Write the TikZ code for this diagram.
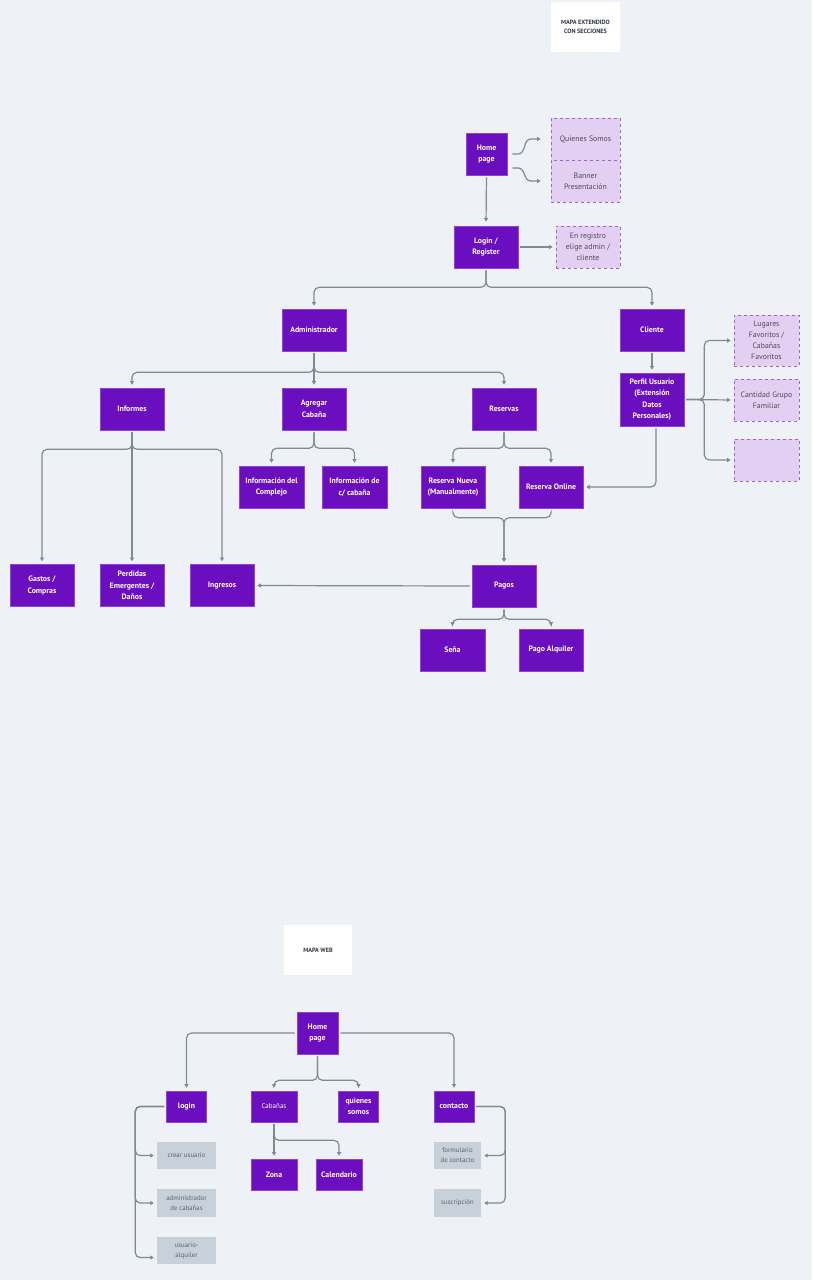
\documentclass[tikz,border=0pt]{standalone}
\usepackage{fontspec}
\setmainfont{PT Sans}
\usetikzlibrary{arrows.meta,calc}

\definecolor{bg}{HTML}{EEF2F6}
\definecolor{purp}{HTML}{6B0EC0}
\definecolor{purpedge}{HTML}{8E45D6}
\definecolor{lilac}{HTML}{E2CFF2}
\definecolor{lilacedge}{HTML}{9A66CC}
\definecolor{lilactext}{HTML}{4F4A5E}
\definecolor{greybox}{HTML}{C8D1D9}
\definecolor{greytext}{HTML}{59636E}
\definecolor{wire}{HTML}{7E8A96}
\definecolor{titletext}{HTML}{2E3440}

\begin{document}
\begin{tikzpicture}[x=1pt,y=-1pt,
  box/.style={fill=purp,draw=purpedge,line width=0.6pt,text=white,
    font=\bfseries\fontsize{7.8}{11.5}\selectfont,align=center,
    minimum width=64pt,minimum height=42pt,inner sep=1pt},
  small/.style={box,minimum width=40pt,minimum height=31pt},
  dashbox/.style={fill=lilac,draw=lilacedge,dashed,line width=0.7pt,
    text=lilactext,font=\fontsize{7.8}{11}\selectfont,align=center,
    minimum width=65pt,minimum height=42pt,inner sep=1pt},
  greyb/.style={fill=greybox,text=greytext,font=\fontsize{6.8}{10}\selectfont,
    align=center,minimum width=59pt,minimum height=27pt,inner sep=1pt},
  titlebox/.style={fill=white,text=titletext,font=\bfseries\fontsize{6.2}{9}\selectfont,
    align=center,minimum width=69pt,minimum height=50pt,inner sep=1pt},
  conn/.style={draw=wire,line width=1.2pt,rounded corners=5pt},
  arr/.style={conn,-{Triangle[length=3.5pt,width=4pt]},shorten >=3pt,shorten <=2pt},
]
% background and picture size
\path[fill=bg] (0,0) rectangle (812,1280);

% ---------- extended map ----------
\node[titlebox] (title) at (585.5,27) {MAPA EXTENDIDO\\CON SECCIONES};

\node[box,minimum width=41pt] (home) at (486.5,154) {Home\\page};
\node[dashbox,minimum width=69pt] (quien) at (585.5,139) {Quienes Somos};
\node[dashbox,minimum width=69pt] (banner) at (585.5,181) {Banner\\Presentación};
\node[box] (login) at (486,247) {Login /\\Register};
\node[dashbox,minimum width=64pt] (enreg) at (588,247) {En registro\\elige admin /\\cliente};

\node[box] (adm) at (314,330) {Administrador};
\node[box] (cli) at (652,330) {Cliente};
\node[box,minimum height=53pt] (perfil) at (652,399.5) {Perfil Usuario\\(Extensión\\Datos\\Personales)};
\node[dashbox,minimum height=51pt] (lug) at (766.5,340.5) {Lugares\\Favoritos /\\Cabañas\\Favoritos};
\node[dashbox] (cant) at (766.5,400) {Cantidad Grupo\\Familiar};
\node[dashbox] (vacio) at (766.5,460) {};

\node[box] (inf) at (132,409) {Informes};
\node[box] (agr) at (314,409) {Agregar\\Cabaña};
\node[box] (res) at (504,409) {Reservas};

\node[box,minimum width=65pt] (icom) at (271.5,487) {Información del\\Complejo};
\node[box,minimum width=65pt] (icab) at (354.5,487) {Información de\\c/ cabaña};
\node[box] (nueva) at (453,487) {Reserva Nueva\\(Manualmente)};
\node[box] (online) at (551,487) {Reserva Online};

\node[box] (pagos) at (504,586) {Pagos};
\node[box] (gas) at (42,585.5) {Gastos /\\Compras};
\node[box] (per) at (132,585.5) {Perdidas\\Emergentes /\\Daños};
\node[box] (ing) at (222,585.5) {Ingresos};
\node[box,minimum width=65pt] (sena) at (452.5,650) {Seña};
\node[box] (alq) at (551,650) {Pago Alquiler};

% connectors
\draw[arr,sharp corners,shorten >=10pt] ([xshift=3pt]home.east) -- ++(8,0)
  to[out=0,in=180] ($(quien.west)+(-20,0)$) -- (quien.west);
\draw[arr,sharp corners,shorten >=10pt] ([xshift=3pt,yshift=-14pt]home.east) -- ++(8,0)
  to[out=0,in=180] ($(banner.west)+(-20,0)$) -- (banner.west);
\draw[arr,shorten >=4pt] (home.south) -- (login.north);
\draw[arr] (login.east) -- (enreg.west);
\draw[arr] (login.south) -- ++(0,19) -| (adm.north);
\draw[arr] (login.south) -- ++(0,19) -| (cli.north);

\draw[arr] (cli.south) -- (perfil.north);
\draw[arr] (perfil.east) -- ++(20,0) |- (lug.west);
\draw[arr] (perfil.east) -- (cant.west);
\draw[arr] (perfil.east) -- ++(20,0) |- (vacio.west);
\draw[arr] ([xshift=4pt]perfil.south) |- (online.east);

\draw[arr] (adm.south) -- ++(0,21) -| (inf.north);
\draw[arr] (adm.south) -- (agr.north);
\draw[arr] (adm.south) -- ++(0,21) -| (res.north);

\draw[arr] (agr.south) -- ++(0,18) -| (icom.north);
\draw[arr] (agr.south) -- ++(0,18) -| (icab.north);
\draw[arr] (res.south) -- ++(0,18) -| (nueva.north);
\draw[arr] (res.south) -- ++(0,18) -| (online.north);

\coordinate (join) at ($(pagos.north)+(0,-47)$);
\draw[arr] ([yshift=-3pt]nueva.south) |- (join) -- (pagos.north);
\draw[arr] ([yshift=-3pt]online.south) |- (join) -- (pagos.north);

\draw[arr] (pagos.west) -- (ing.east);
\draw[arr] (pagos.south) -- ++(0,12) -| (sena.north);
\draw[arr] (pagos.south) -- ++(0,12) -| (alq.north);

\draw[arr] (inf.south) -- ++(0,19) -| (gas.north);
\draw[arr] (inf.south) -- (per.north);
\draw[arr] (inf.south) -- ++(0,19) -| (ing.north);

% ---------- web map ----------
\node[titlebox,minimum width=68pt] (webtitle) at (318,950) {MAPA WEB};

\node[box,minimum width=41pt] (home2) at (317.5,1033) {Home\\page};
\node[small] (login2) at (186.5,1106.5) {login};
\node[small,font=\fontsize{7}{10}\selectfont,minimum width=46pt] (cab) at (274,1106.5) {Cabañas};
\node[small] (qs) at (358.5,1106.5) {quienes\\somos};
\node[small] (cont) at (454,1106.5) {contacto};
\node[small,minimum width=46pt] (zona) at (274,1174.5) {Zona};
\node[small,minimum width=46pt] (cal) at (339,1174.5) {Calendario};

\node[greyb] (crear) at (186.5,1155.5) {crear usuario};
\node[greyb,minimum height=28pt] (admc) at (186.5,1203) {administrador\\de cabañas};
\node[greyb] (usu) at (186.5,1250.5) {usuario-\\alquiler};
\node[greyb,minimum width=47pt] (form) at (457.5,1155.5) {formulario\\de contacto};
\node[greyb,minimum width=47pt,minimum height=28pt] (susc) at (457.5,1203) {suscripción};

\draw[arr] (home2.west) -| (login2.north);
\draw[arr] (home2.east) -| (cont.north);
\draw[arr] (home2.south) -- ++(0,26) -| (cab.north);
\draw[arr] (home2.south) -- ++(0,26) -| (qs.north);

\draw[arr] (cab.south) -- (zona.north);
\draw[arr] (cab.south) -- ++(0,18) -| (cal.north);

\draw[arr] (login2.west) -- ++(-31,0) |- (crear.west);
\draw[arr] (login2.west) -- ++(-31,0) |- (admc.west);
\draw[arr] (login2.west) -- ++(-31,0) |- ([yshift=-7pt]usu.west);

\draw[arr] (cont.east) -- ++(31,0) |- (form.east);
\draw[arr] (cont.east) -- ++(31,0) |- (susc.east);
\end{tikzpicture}
\end{document}
